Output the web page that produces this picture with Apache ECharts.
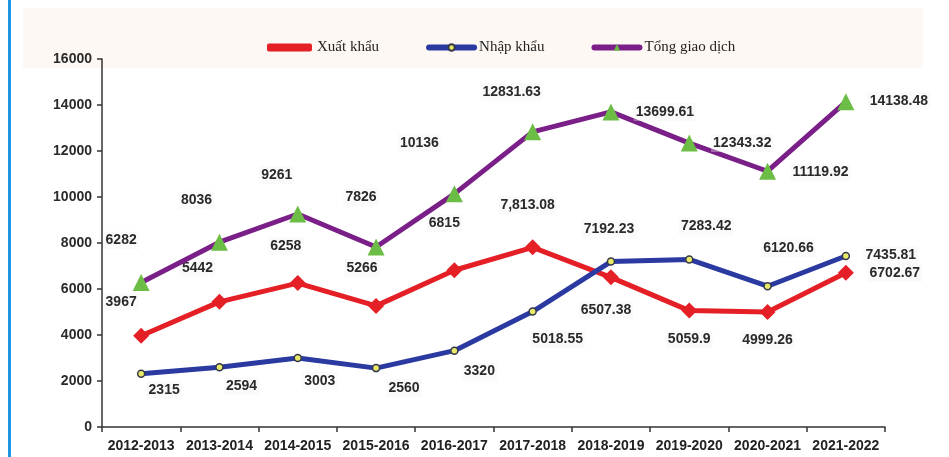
<!DOCTYPE html>
<html>
<head>
<meta charset="utf-8">
<script src="https://cdn.jsdelivr.net/npm/echarts@6/dist/echarts.min.js"></script>
<style>
html,body{margin:0;padding:0;background:#fff;}
#chart{width:949px;height:457px;}
</style>
</head>
<body>
<div id="chart"></div>
<script>
const categories = ['2012-2013','2013-2014','2014-2015','2015-2016','2016-2017','2017-2018','2018-2019','2019-2020','2020-2021','2021-2022'];
const exportValues = [3967, 5442, 6258, 5266, 6815, 7813.08, 6507.38, 5059.9, 4999.26, 6702.67];
const importValues = [2315, 2594, 3003, 2560, 3320, 5018.55, 7192.23, 7283.42, 6120.66, 7435.81];
const totalValues = [6282, 8036, 9261, 7826, 10136, 12831.63, 13699.61, 12343.32, 11119.92, 14138.48];
const exportLabels = ['3967','5442','6258','5266','6815','7,813.08','6507.38','5059.9','4999.26','6702.67'];
const importLabels = ['2315','2594','3003','2560','3320','5018.55','7192.23','7283.42','6120.66','7435.81'];
const totalLabels = ['6282','8036','9261','7826','10136','12831.63','13699.61','12343.32','11119.92','14138.48'];
const yTicks = [0, 2000, 4000, 6000, 8000, 10000, 12000, 14000, 16000];

// label placement (style only)
const exportLabelOffsets = [[-20,-34],[-22,-34],[-12,-37],[-14,-38],[-10,-47],[-5,-42],[-5,33],[0,29],[0,28],[49,0]];
const importLabelOffsets = [[23,16],[22,19],[22,23],[28,20],[25,21],[25,28],[-2,-32],[17,-33],[21,-38],[45,-1]];
const totalLabelOffsets = [[-20,-42],[-23,-42],[-21,-39],[-15,-50],[-35,-51],[-21,-40],[54,0],[53,0],[53,1],[53,-1]];

const labelFont = {fontFamily:'Liberation Sans, Arial, sans-serif', fontWeight:'bold', fontSize:14, color:'#2a2a2a'};

function buildData(values, labels, offsets){
  return values.map((v,i)=>({
    value: v,
    label: {
      show: true,
      position: 'inside',
      offset: offsets[i],
      formatter: labels[i],
      ...labelFont,
      backgroundColor: 'rgba(240,240,240,0.35)',
      padding: [2,2]
    }
  }));
}

const chart = echarts.init(document.getElementById('chart'), null, {renderer:'canvas'});
chart.setOption({
  backgroundColor: '#ffffff',
  animation: false,
  graphic: [
    {type:'rect', z:-10, shape:{x:23, y:8, width:900, height:60}, style:{fill:'#fdf8f4'}},
    {type:'rect', z:10, shape:{x:8, y:0, width:3, height:457}, style:{fill:'#1e96e6'}}
  ],
  legend: {
    left: 262,
    top: 35,
    itemWidth: 45,
    itemHeight: 8,
    itemGap: 47,
    lineStyle: {width: 6, cap: 'round'},
    textStyle: {fontFamily:'Liberation Serif, Times New Roman, serif', fontSize:15, color:'#222'},
    data: [
      {name:'Xuất khẩu', icon:'roundRect'},
      {name:'Nhập khẩu'},
      {name:'Tổng giao dịch'}
    ]
  },
  grid: {left:102, right:64, top:59, bottom:30, containLabel:false},
  xAxis: {
    type: 'category',
    data: categories,
    boundaryGap: true,
    axisLine: {lineStyle:{color:'#333', width:1.5}},
    axisTick: {show:true, length:5, inside:false, alignWithLabel:false, lineStyle:{color:'#333', width:1.5}},
    axisLabel: {fontFamily:'Liberation Sans, Arial, sans-serif', fontWeight:'bold', fontSize:14, color:'#222', margin:12, interval:0}
  },
  yAxis: {
    type: 'value',
    min: yTicks[0],
    max: yTicks[yTicks.length-1],
    interval: yTicks[1]-yTicks[0],
    axisLine: {show:true, lineStyle:{color:'#333', width:1.5}},
    axisTick: {show:true, length:5, lineStyle:{color:'#333', width:1.5}},
    splitLine: {show:false},
    axisLabel: {fontFamily:'Liberation Sans, Arial, sans-serif', fontWeight:'bold', fontSize:14, color:'#2a2a2a', margin:10, formatter: v => String(v)}
  },
  series: [
    {
      name: 'Xuất khẩu',
      type: 'line',
      data: buildData(exportValues, exportLabels, exportLabelOffsets),
      symbol: 'diamond',
      symbolSize: 16,
      itemStyle: {color:'#e41f26'},
      lineStyle: {color:'#e41f26', width:5},
      z: 3
    },
    {
      name: 'Nhập khẩu',
      type: 'line',
      data: buildData(importValues, importLabels, importLabelOffsets),
      symbol: 'circle',
      symbolSize: 7,
      itemStyle: {color:'#e8e86a', borderColor:'#33384a', borderWidth:1.5},
      lineStyle: {color:'#2b3aa0', width:5},
      z: 4
    },
    {
      name: 'Tổng giao dịch',
      type: 'line',
      data: buildData(totalValues, totalLabels, totalLabelOffsets),
      symbol: 'triangle',
      symbolSize: 17,
      itemStyle: {color:'#6cbd45'},
      lineStyle: {color:'#7a1f88', width:5},
      z: 5
    }
  ]
});
</script>
</body>
</html>
